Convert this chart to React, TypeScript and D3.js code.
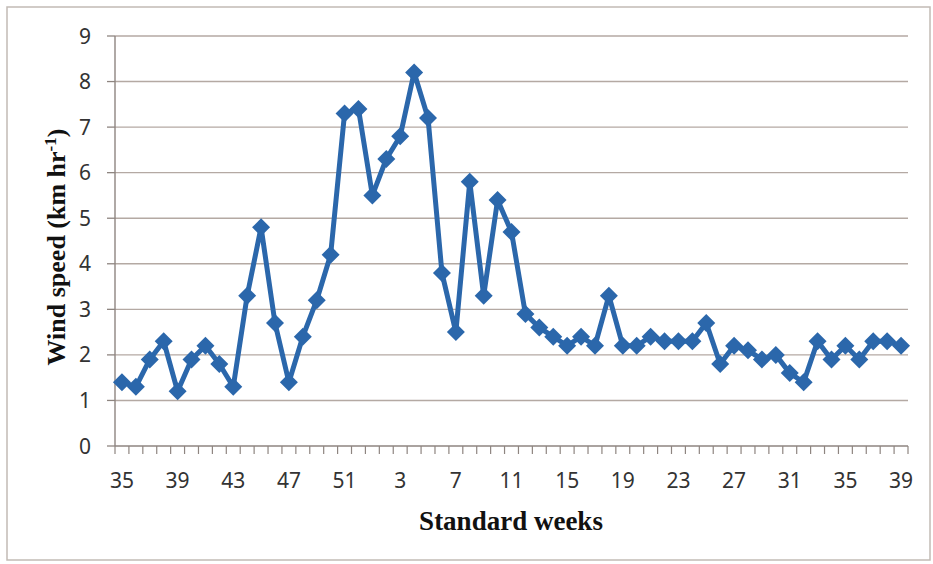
import React from "react";
import * as d3 from "d3";

const weeks: number[] = [
  35, 36, 37, 38, 39, 40, 41, 42, 43, 44, 45, 46, 47, 48, 49, 50, 51, 52,
  1, 2, 3, 4, 5, 6, 7, 8, 9, 10, 11, 12, 13, 14, 15, 16, 17, 18, 19, 20,
  21, 22, 23, 24, 25, 26, 27, 28, 29, 30, 31, 32, 33, 34, 35, 36, 37, 38, 39,
];

const windSpeed: number[] = [
  1.4, 1.3, 1.9, 2.3, 1.2, 1.9, 2.2, 1.8, 1.3, 3.3, 4.8, 2.7, 1.4, 2.4, 3.2, 4.2, 7.3, 7.4,
  5.5, 6.3, 6.8, 8.2, 7.2, 3.8, 2.5, 5.8, 3.3, 5.4, 4.7, 2.9, 2.6, 2.4, 2.2, 2.4, 2.2, 3.3,
  2.2, 2.2, 2.4, 2.3, 2.3, 2.3, 2.7, 1.8, 2.2, 2.1, 1.9, 2.0, 1.6, 1.4, 2.3, 1.9, 2.2, 1.9,
  2.3, 2.3, 2.2,
];

const yTicks: number[] = [0, 1, 2, 3, 4, 5, 6, 7, 8, 9];
const xLabelEvery = 4;

const W = 933;
const H = 564;
const X0 = 115;
const X1 = 908;
const Y0 = 446;
const Y1 = 36;

export default function App() {
  const idx = weeks.map((_, i) => i);
  const x = d3.scaleBand<number>().domain(idx).range([X0, X1]).paddingInner(0).paddingOuter(0);
  const y = d3.scaleLinear().domain([0, 9]).range([Y0, Y1]);
  const cx = (i: number) => (x(i) as number) + x.bandwidth() / 2;

  const line = d3
    .line<number>()
    .x((_, i) => cx(i))
    .y((d) => y(d));

  const boundaries = d3.range(weeks.length + 1).map((i) => X0 + i * x.bandwidth());
  const diamond = (s: number) => `M0,${-s} L${s},0 L0,${s} L${-s},0 Z`;

  const blue = "#2b67ab";
  const grid = "#b4a9a3";
  const axis = "#8e8580";
  const sans = "'Noto Sans', 'Open Sans', sans-serif";
  const serif = "'Liberation Serif', 'Times New Roman', serif";

  return (
    <svg
      width={W}
      height={H}
      style={{ position: "absolute", left: 0, top: 0, display: "block", background: "#fff" }}
    >
      <rect x={7} y={7} width={923} height={553} fill="#fff" stroke="#c2bbb5" strokeWidth={1.5} />

      {yTicks.map((t) => (
        <g key={"g" + t}>
          {t > 0 && (
            <line x1={X0} x2={X1} y1={y(t)} y2={y(t)} stroke={grid} strokeWidth={1.4} />
          )}
          <line x1={X0 - 8} x2={X0} y1={y(t)} y2={y(t)} stroke={axis} strokeWidth={1.3} />
          <text
            x={91}
            y={y(t)}
            dy="0.36em"
            textAnchor="end"
            fontFamily={sans}
            fontSize={21}
            fill="#333"
          >
            {t}
          </text>
        </g>
      ))}

      <line x1={X0} x2={X0} y1={Y1} y2={Y0} stroke={axis} strokeWidth={1.4} />
      <line x1={X0} x2={X1} y1={Y0} y2={Y0} stroke={axis} strokeWidth={1.4} />
      {boundaries.map((bx, i) => (
        <line key={"t" + i} x1={bx} x2={bx} y1={Y0} y2={Y0 + 8} stroke={axis} strokeWidth={1.2} />
      ))}

      {weeks.map((w, i) =>
        i % xLabelEvery === 0 ? (
          <text
            key={"xl" + i}
            x={cx(i)}
            y={488}
            textAnchor="middle"
            fontFamily={sans}
            fontSize={21}
            fill="#333"
          >
            {w}
          </text>
        ) : null
      )}

      <path d={line(windSpeed) || ""} fill="none" stroke={blue} strokeWidth={5} strokeLinejoin="round" />
      {windSpeed.map((v, i) => (
        <path key={"m" + i} d={diamond(9)} transform={`translate(${cx(i)},${y(v)})`} fill={blue} />
      ))}

      <text
        transform={`translate(65,247) rotate(-90)`}
        textAnchor="middle"
        fontFamily={serif}
        fontWeight="bold"
        fontSize={26}
        fill="#111"
      >
        Wind speed (km hr
        <tspan fontSize={17} dy={-9}>-1</tspan>
        <tspan dy={9}>)</tspan>
      </text>

      <text
        x={511}
        y={530}
        textAnchor="middle"
        fontFamily={serif}
        fontWeight="bold"
        fontSize={27}
        fill="#111"
      >
        Standard weeks
      </text>
    </svg>
  );
}
